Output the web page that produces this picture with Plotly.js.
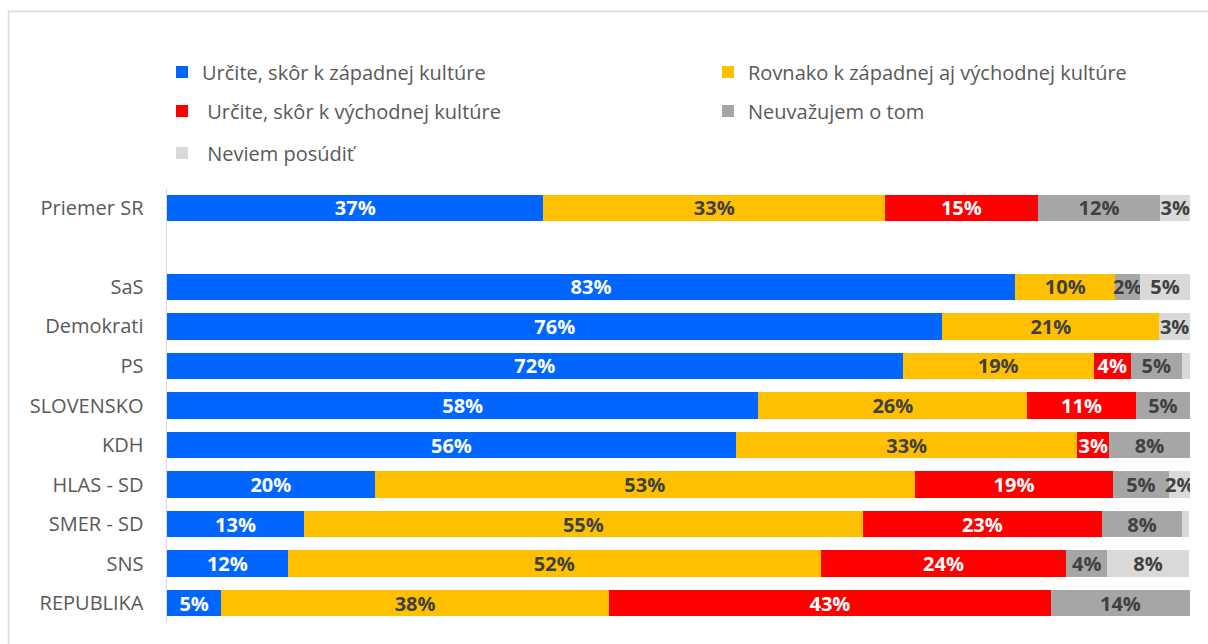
<!DOCTYPE html>
<html>
<head>
<meta charset="utf-8">
<script src="https://cdn.plot.ly/plotly-3.0.1.min.js"></script>
<style>html,body{margin:0;padding:0;background:#fff;}#chart{width:1208px;height:644px;}</style>
</head>
<body>
<div id="chart"></div>
<script>
const categories = ["Priemer SR", " ", "SaS", "Demokrati", "PS", "SLOVENSKO", "KDH", "HLAS - SD", "SMER - SD", "SNS", "REPUBLIKA"];
const seriesNames = [
  "Určite, skôr k západnej kultúre",
  "Rovnako k západnej aj východnej kultúre",
  " Určite, skôr k východnej kultúre",
  "Neuvažujem o tom",
  " Neviem posúdiť"
];
const zapad     = [36.8, null, 82.9, 75.8, 71.9, 57.8, 55.6, 20.3, 13.4, 11.8, 5.3];
const rovnako   = [33.4, null, 9.8, 21.2, 18.7, 26.3, 33.4, 52.8, 54.6, 52.1, 37.9];
const vychod    = [14.9, null, 0, 0, 3.6, 10.6, 3.1, 19.4, 23.4, 24.0, 43.2];
const neuvazujem= [12.0, null, 2.4, 0, 5.0, 5.3, 7.9, 5.4, 7.8, 4.0, 13.6];
const neviem    = [2.9, null, 4.9, 3.0, 0.8, 0, 0, 2.2, 0.7, 8.0, 0];

const colors = ["#0066FF", "#FFC000", "#FF0000", "#A6A6A6", "#D9D9D9"];
const textColors = ["#FFFFFF", "#404040", "#FFFFFF", "#404040", "#404040"];
const legendIds = ["legend", "legend2", "legend3", "legend4", "legend5"];
const allSeries = [zapad, rovnako, vychod, neuvazujem, neviem];

const traces = allSeries.map((vals, i) => ({
  type: "bar",
  orientation: "h",
  name: seriesNames[i],
  y: categories,
  x: vals,
  legend: legendIds[i],
  marker: {color: colors[i], line: {width: 0}},
  text: vals.map(v => (v !== null && v >= 1.5) ? Math.round(v) + "%" : ""),
  textposition: "inside",
  insidetextanchor: "middle",
  textangle: 0,
  textfont: {family: "Open Sans", size: 20, color: textColors[i], weight: "bold"},
  hoverinfo: "skip"
}));

const plotTop = 188, plotBottom = 623, plotLeft = 167, plotRight = 1190;
const ph = plotBottom - plotTop, pw = plotRight - plotLeft;
const py = y => 1 + (plotTop - y) / ph;
const px = x => (x - plotLeft) / pw;

const mkLegend = (xPix, yPix) => ({
  orientation: "v",
  xanchor: "left",
  yanchor: "middle",
  x: px(xPix),
  y: py(yPix),
  font: {family: "Open Sans", size: 20, color: "#595959"},
  bgcolor: "rgba(0,0,0,0)"
});

const layout = {
  width: 1208,
  height: 644,
  margin: {l: plotLeft, r: 1208 - plotRight, t: plotTop, b: 644 - plotBottom, pad: 0},
  paper_bgcolor: "#FFFFFF",
  plot_bgcolor: "#FFFFFF",
  barmode: "stack",
  bargap: 0.33,
  showlegend: true,
  legend: mkLegend(162, 72),
  legend2: mkLegend(708, 72),
  legend3: mkLegend(162, 111),
  legend4: mkLegend(708, 111),
  legend5: mkLegend(162, 153),
  uniformtext: {mode: "show", minsize: 20},
  xaxis: {
    range: [0, 100],
    showgrid: false,
    zeroline: false,
    showticklabels: false,
    showline: false,
    fixedrange: true
  },
  yaxis: {
    type: "category",
    categoryorder: "array",
    categoryarray: categories,
    autorange: "reversed",
    showgrid: false,
    zeroline: false,
    showline: true,
    linecolor: "#D9D9D9",
    linewidth: 1.5,
    ticks: "",
    ticklabelstandoff: 18,
    tickfont: {family: "Open Sans", size: 20, color: "#595959"},
    fixedrange: true
  },
  shapes: [{
    type: "rect",
    xref: "paper", yref: "paper",
    x0: px(8.5), x1: px(1215),
    y0: py(660), y1: py(11.5),
    line: {color: "#D9D9D9", width: 1.5},
    fillcolor: "rgba(0,0,0,0)",
    layer: "below"
  }]
};

Plotly.newPlot("chart", traces, layout, {displayModeBar: false, staticPlot: true});
</script>
</body>
</html>
